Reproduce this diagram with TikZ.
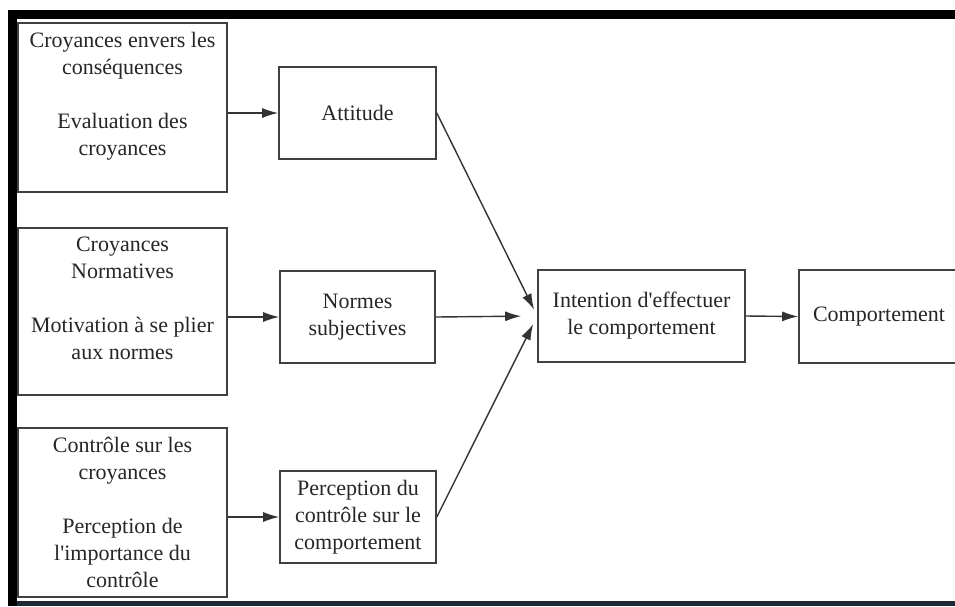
\documentclass[tikz,border=0pt]{standalone}
\usepackage{fontspec}
\setmainfont{Liberation Serif}
\usetikzlibrary{arrows.meta}
\definecolor{frameblue}{RGB}{30,40,52}
\newcommand{\topbox}[1]{\parbox[c][150pt][t]{205pt}{\centering #1\par}}

\begin{document}
\begin{tikzpicture}[x=1pt,y=-1pt,
    box/.style={draw=black!75,line width=1.6pt,align=center,inner sep=0pt,
      font=\fontsize{22}{27}\selectfont,text=black!85},
    arr/.style={-{Latex[length=16pt,width=10pt]},line width=1.4pt,draw=black!80}]
    \clip (0,0) rectangle (955,606);
    \fill[white] (0,0) rectangle (955,606);
    % frame of the screenshot
    \fill[black] (8,10) rectangle (955,19);
    \fill[black] (8,10) rectangle (17,606);
    \fill[frameblue] (17,601) rectangle (955,606);

    % belief boxes
    \node[box,minimum width=209pt,minimum height=169pt] (croy1) at (122.5,107.5)
        {\topbox{Croyances envers les\\conséquences\\[27pt]Evaluation des\\croyances}};
    \node[box,minimum width=209pt,minimum height=167pt] (croy2) at (122.5,311.5)
        {\topbox{Croyances\\Normatives\\[27pt]Motivation à se plier\\aux normes}};
    \node[box,minimum width=209pt,minimum height=169pt] (croy3) at (122.5,512.5)
        {\topbox{Contrôle sur les\\croyances\\[27pt]Perception de\\l\textquotesingle importance du\\contrôle}};

    % middle column
    \node[box,minimum width=157pt,minimum height=92pt] (attitude) at (357.5,113) {Attitude};
    \node[box,minimum width=155pt,minimum height=92pt] (normes) at (357.5,317) {Normes\\subjectives};
    \node[box,minimum width=156pt,minimum height=92pt] (percep) at (358,517)
        {Perception du\\contrôle sur le\\comportement};

    % right column
    \node[box,minimum width=207pt,minimum height=92pt] (intention) at (641.5,316)
        {Intention d\textquotesingle effectuer\\le comportement};
    \node[box,minimum width=160pt,minimum height=93pt] (comport) at (879,316.5) {Comportement};

    \draw[arr] (attitude.west -| croy1.east) -- (attitude.west);
    \draw[arr] (normes.west -| croy2.east) -- (normes.west);
    \draw[arr] (percep.west -| croy3.east) -- (percep.west);

    \draw[arr,shorten >=7pt] (attitude.east) -- (intention.west);
    \draw[arr,shorten >=16pt] (normes.east) -- (intention.west);
    \draw[arr,shorten >=9pt] (percep.east) -- (intention.west);
    \draw[arr] (intention.east) -- (comport.west);
\end{tikzpicture}
\end{document}
